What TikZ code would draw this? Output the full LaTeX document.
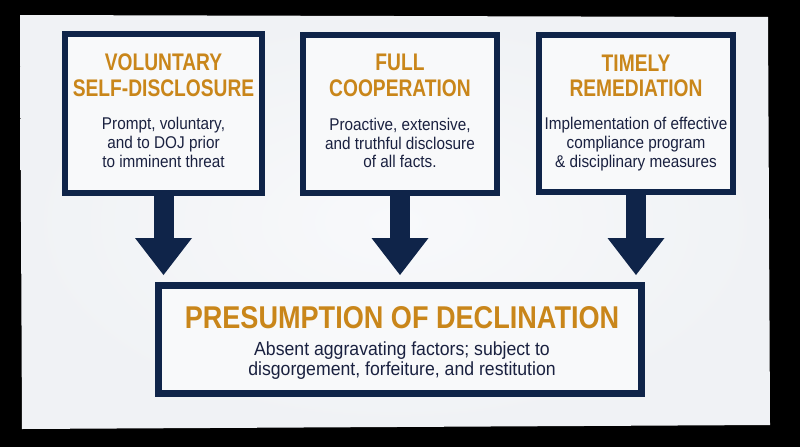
\documentclass[tikz,border=0pt]{standalone}
\usepackage{fontspec}
\usetikzlibrary{arrows.meta}
\newfontfamily\titlef[FakeStretch=0.8]{Liberation Sans}
\newfontfamily\bigtitlef[FakeStretch=0.86]{Liberation Sans}
\newfontfamily\bodyf[FakeStretch=0.9]{Liberation Sans}
\newfontfamily\bigbodyf[FakeStretch=0.93]{Liberation Sans}
\definecolor{navy}{HTML}{0F2449}
\definecolor{gold}{HTML}{C9861A}
\definecolor{ink}{HTML}{1A2140}
\definecolor{screen}{HTML}{F0F2F5}
\definecolor{screenc}{HTML}{F8F9FB}
\definecolor{boxfill}{HTML}{F8F9FA}
\begin{document}
\begin{tikzpicture}[x=1pt,y=-1pt,
  card/.style={draw=navy, fill=boxfill, line width=6pt, inner sep=0pt, rectangle},
  ttl/.style={text=gold, align=center, inner sep=0pt, font={\titlef\bfseries\fontsize{24}{25.7}\selectfont}},
  bdy/.style={text=ink, align=center, inner sep=0pt, font={\bodyf\fontsize{17}{18.8}\selectfont}},
  bigarrow/.style={draw=navy, line width=20pt, -{Triangle[width=57pt,length=37pt,line width=0pt]}, shorten >=7pt}]
\useasboundingbox (0,0) rectangle (800,447);
\fill[black] (0,0) rectangle (800,447);
\shade[inner color=screenc, outer color=screen] (20,15) -- (768,17) -- (770,425) -- (22,429) -- cycle;
% top boxes
\node[card, minimum width=197pt, minimum height=159pt] (b1) at (163.5,113.5) {};
\node[card, minimum width=194pt, minimum height=158pt] (b2) at (400,114) {};
\node[card, minimum width=194pt, minimum height=157pt] (b3) at (636,113.5) {};
% bottom box
\node[card, line width=7pt, minimum width=483pt, minimum height=108pt] (bot) at (400,339.5) {};
% titles
\node[ttl] (t1) at (163.5,75) {VOLUNTARY\\SELF-DISCLOSURE};
\node[ttl] (t2) at (400,75.5) {FULL\\COOPERATION};
\node[ttl] (t3) at (636,76) {TIMELY\\REMEDIATION};
% bodies
\node[bdy] (d1) at (163.5,142.5) {Prompt, voluntary,\\and to DOJ prior\\to imminent threat};
\node[bdy] (d2) at (400,143) {Proactive, extensive,\\and truthful disclosure\\of all facts.};
\node[bdy] (d3) at (636,144) {Implementation of effective\\compliance program\\\& disciplinary measures};
% bottom texts
\node[text=gold, inner sep=0pt, font={\bigtitlef\bfseries\fontsize{31.5}{33}\selectfont}] (tb) at (402,318) {PRESUMPTION OF DECLINATION};
\node[text=ink, align=center, inner sep=0pt, font={\bigbodyf\fontsize{19}{19.4}\selectfont}] (db) at (402,360.5) {Absent aggravating factors; subject to\\disgorgement, forfeiture, and restitution};
% arrows
\draw[bigarrow] (b1.south) -- (b1.south |- bot.north);
\draw[bigarrow] (b2.south) -- (b2.south |- bot.north);
\draw[bigarrow] (b3.south) -- (b3.south |- bot.north);
\end{tikzpicture}
\end{document}
